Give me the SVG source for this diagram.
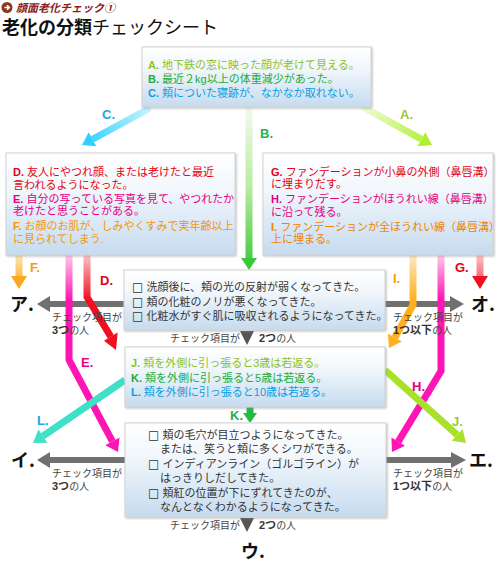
<svg xmlns="http://www.w3.org/2000/svg" width="500" height="564" viewBox="0 0 500 564">
<defs>
<style>
text{font-family:"Liberation Sans","Noto Sans CJK JP",sans-serif;}
.bx{font-size:11px;}
.g{fill:#333;}
.sq{font-family:"DejaVu Sans","Noto Sans CJK JP",sans-serif;font-size:12px;}
.lbl{font-size:10px;fill:#444;}
.b{font-weight:bold;}
.nb{font-weight:bold;font-size:11px;fill:#333;}
.al{font-size:13px;font-weight:bold;}
.big{font-family:"Noto Sans CJK JP",sans-serif;font-size:18px;font-weight:bold;fill:#111;}
.box{stroke:#d4d4d4;stroke-width:1;fill:url(#boxg);filter:url(#sh);}
.sh{fill:none;stroke-width:7;stroke-linejoin:miter;}
.gr{fill:#707070;}
</style>
<linearGradient id="boxg" x1="0" y1="0" x2="0" y2="1">
<stop offset="0" stop-color="#ffffff"/>
<stop offset="0.35" stop-color="#f2f7fc"/>
<stop offset="1" stop-color="#c6dbef"/>
</linearGradient>
<filter id="sh" x="-5%" y="-5%" width="110%" height="115%">
<feDropShadow dx="1" dy="1" stdDeviation="1.2" flood-color="#888" flood-opacity="0.55"/>
</filter>
<linearGradient id="gC" gradientUnits="userSpaceOnUse" x1="150" y1="108" x2="85" y2="143"><stop offset="0" stop-color="#c8f4ff"/><stop offset="1" stop-color="#2fd0ff"/></linearGradient>
<linearGradient id="gA" gradientUnits="userSpaceOnUse" x1="363" y1="107" x2="430" y2="143"><stop offset="0" stop-color="#eefcd8"/><stop offset="1" stop-color="#b0f030"/></linearGradient>
<linearGradient id="gB" gradientUnits="userSpaceOnUse" x1="0" y1="107" x2="0" y2="268"><stop offset="0" stop-color="#f2faee"/><stop offset="0.5" stop-color="#b8eca0"/><stop offset="1" stop-color="#3cc83c"/></linearGradient>
<linearGradient id="gF" gradientUnits="userSpaceOnUse" x1="0" y1="255" x2="0" y2="288"><stop offset="0" stop-color="#fde6b0"/><stop offset="1" stop-color="#f9a820"/></linearGradient>
<linearGradient id="gE" gradientUnits="userSpaceOnUse" x1="0" y1="255" x2="0" y2="300"><stop offset="0" stop-color="#ffc8ea"/><stop offset="1" stop-color="#ff14b4"/></linearGradient>
<linearGradient id="gD" gradientUnits="userSpaceOnUse" x1="0" y1="255" x2="0" y2="300"><stop offset="0" stop-color="#ffc0c8"/><stop offset="1" stop-color="#f01020"/></linearGradient>
<linearGradient id="gI" gradientUnits="userSpaceOnUse" x1="0" y1="255" x2="0" y2="300"><stop offset="0" stop-color="#fde8c0"/><stop offset="1" stop-color="#ffb020"/></linearGradient>
</defs>
<rect width="500" height="564" fill="#ffffff"/>

<g id="header">
<circle cx="7" cy="7.5" r="5.5" fill="#8a3a1a"/>
<path d="M4.5 7.5 H9 M7 5.2 L9.3 7.5 L7 9.8" stroke="#fff" stroke-width="1.6" fill="none"/>
<text x="16" y="12" font-size="11" font-weight="bold" font-style="italic" fill="#8b1c1c">顔面老化チェック①</text>
<text x="2" y="34" font-size="18" fill="#111"><tspan font-weight="bold">老化の分類</tspan>チェックシート</text>
</g>

<g id="connectors">
<rect class="gr" x="49" y="301" width="76" height="6"/>
<polygon class="gr" points="50,296 50,312 37,304"/>
<rect class="gr" x="385" y="301" width="66" height="6"/>
<polygon class="gr" points="450,296 450,312 464,304"/>
<rect class="gr" x="49" y="457" width="76" height="6"/>
<polygon class="gr" points="50,452 50,468 37,460"/>
<rect class="gr" x="386" y="457" width="66" height="6"/>
<polygon class="gr" points="451,452 451,468 466,460"/>

<path class="sh" stroke="url(#gC)" d="M150 108 L92.5 139.3"/>
<polygon fill="#2fd0ff" points="96.3,146.3 88.7,132.3 82,145"/>
<path class="sh" stroke="url(#gA)" d="M363 107 L421.5 139.2"/>
<polygon fill="#b0f030" points="417.6,146.2 425.4,132.2 432,145"/>
<path class="sh" stroke="url(#gB)" d="M249 107 V259"/>
<polygon fill="#3cc83c" points="241,258 257,258 249,270"/>
<path class="sh" stroke="url(#gF)" d="M19 255 V277"/>
<polygon fill="#f9a820" points="11,276 27,276 19,289"/>
<path class="sh" stroke="url(#gE)" d="M69 255 V360 L112.4 441.4"/>
<polygon fill="#ff14b4" points="105.3,445.2 119.5,437.6 118,452"/>
<path class="sh" stroke="url(#gD)" d="M87 255 V297 L110.8 336.7"/>
<polygon fill="#f01020" points="104,340.8 117.7,332.6 116,350"/>
<path class="sh" stroke="url(#gD)" d="M480 255 V277"/>
<polygon fill="#f01020" points="472,276 488,276 480,289"/>
<path class="sh" stroke="url(#gE)" d="M441 255 V371 L398.2 441.7"/>
<polygon fill="#ff14b4" points="405,445.8 391.4,437.6 392,452"/>
<path class="sh" stroke="url(#gI)" d="M413 255 V305 L394.9 337.5"/>
<polygon fill="#ffb020" points="401.9,341.4 387.9,333.6 389,348"/>
<path class="sh" stroke="#a8e02a" d="M385 370 L457.2 434.8"/>
<polygon fill="#a8e02a" points="451.8,440.7 462.6,428.9 466,443"/>
<path class="sh" stroke="#3ee0c8" d="M125 380 L42.9 436.2"/>
<polygon fill="#3ee0c8" points="47.4,442.8 38.4,429.6 33,443"/>
<path class="sh" stroke="#22bb44" d="M250 407 V414"/>
<polygon fill="#22bb44" points="243,413 257,413 250,423"/>

<text class="al" x="102" y="119" fill="#11aaee">C.</text>
<text class="al" x="400" y="119" fill="#99cc33">A.</text>
<text class="al" x="260" y="138" fill="#22b544">B.</text>
<text class="al" x="30" y="272" fill="#f5a000">F.</text>
<text class="al" x="100" y="285" fill="#e60012">D.</text>
<text class="al" x="81" y="367" fill="#e4007f">E.</text>
<text class="al" x="393" y="283" fill="#f5a000">I.</text>
<text class="al" x="455" y="272" fill="#e60012">G.</text>
<text class="al" x="412" y="391" fill="#e4007f">H.</text>
<text class="al" x="37" y="425" fill="#11aaee">L.</text>
<text class="al" x="452" y="426" fill="#99cc33">J.</text>
<text class="al" x="230" y="420" fill="#22b544">K.</text>

<text class="lbl" x="52" y="321">チェック項目が<tspan x="52" dy="13"><tspan class="nb">3つ</tspan>の人</tspan></text>
<text class="lbl" x="393" y="321">チェック項目が<tspan x="393" dy="13"><tspan class="nb">1つ以下</tspan>の人</tspan></text>
<text class="lbl" x="52" y="477">チェック項目が<tspan x="52" dy="13"><tspan class="nb">3つ</tspan>の人</tspan></text>
<text class="lbl" x="393" y="477">チェック項目が<tspan x="393" dy="13"><tspan class="nb">1つ以下</tspan>の人</tspan></text>
<text class="lbl" x="170" y="342">チェック項目が</text>
<polygon fill="#555" points="240,331 254,331 247,345"/>
<text class="lbl" x="259" y="342"><tspan class="nb">2つ</tspan>の人</text>
<text class="lbl" x="170" y="529">チェック項目が</text>
<polygon fill="#555" points="240,518 254,518 247,532"/>
<text class="lbl" x="259" y="529"><tspan class="nb">2つ</tspan>の人</text>
</g>

<g id="node-top">
<rect class="box" x="142" y="47" width="229" height="60"/>
<text class="bx" x="148" y="69"><tspan fill="#8dc21f"><tspan class="b">A.</tspan> 地下鉄の窓に映った顔が老けて見える。</tspan><tspan x="148" dy="13.5" fill="#22ac38"><tspan class="b">B.</tspan> 最近２kg以上の体重減少があった。</tspan><tspan x="148" dy="14.5" fill="#0a9ee0"><tspan class="b">C.</tspan> 頬についた寝跡が、なかなか取れない。</tspan></text>
</g>

<g id="node-left">
<rect class="box" x="6" y="153" width="229" height="102"/>
<text class="bx" x="13" y="176"><tspan fill="#e60012"><tspan class="b">D.</tspan> 友人にやつれ顔、または老けたと最近</tspan><tspan x="13" dy="12.5" fill="#e60012">言われるようになった。</tspan><tspan x="13" dy="14" fill="#e4007f"><tspan class="b">E.</tspan> 自分の写っている写真を見て、やつれたか</tspan><tspan x="13" dy="12.5" fill="#e4007f">老けたと思うことがある。</tspan><tspan x="13" dy="15" fill="#f39800"><tspan class="b">F.</tspan> お顔のお肌が、しみやくすみで実年齢以上</tspan><tspan x="13" dy="12.5" fill="#f39800">に見られてしまう.</tspan></text>
</g>

<g id="node-right">
<rect class="box" x="263" y="153" width="230" height="102"/>
<text class="bx" x="271" y="175.5"><tspan fill="#e60012"><tspan class="b">G.</tspan> ファンデーションが小鼻の外側（鼻唇溝）</tspan><tspan x="271" dy="12.5" fill="#e60012">に埋まりだす。</tspan><tspan x="271" dy="15" fill="#e4007f"><tspan class="b">H.</tspan> ファンデーションがほうれい線（鼻唇溝）</tspan><tspan x="271" dy="12.5" fill="#e4007f">に沿って残る。</tspan><tspan x="271" dy="15" fill="#f08300"><tspan class="b">I.</tspan> ファンデーションが全ほうれい線（鼻唇溝）</tspan><tspan x="271" dy="12.5" fill="#f08300">上に埋まる。</tspan></text>
</g>

<g id="node-check1">
<rect class="box" x="124" y="270" width="261" height="60"/>
<text class="bx g" x="132" y="291"><tspan class="sq">□</tspan> 洗顔後に、頬の光の反射が弱くなってきた。<tspan x="132" dy="14.5"><tspan class="sq">□</tspan> 頬の化粧のノリが悪くなってきた。</tspan><tspan x="132" dy="14.5"><tspan class="sq">□</tspan> 化粧水がすぐ肌に吸収されるようになってきた。</tspan></text>
</g>

<g id="node-check2">
<rect class="box" x="125" y="347" width="260" height="60"/>
<text class="bx" x="131" y="367"><tspan fill="#8dc21f"><tspan class="b">J.</tspan> 頬を外側に引っ張ると3歳は若返る。</tspan><tspan x="131" dy="14.5" fill="#22ac38"><tspan class="b">K.</tspan> 頬を外側に引っ張ると5歳は若返る。</tspan><tspan x="131" dy="14.5" fill="#0a9ee0"><tspan class="b">L.</tspan> 頬を外側に引っ張ると10歳は若返る。</tspan></text>
</g>

<g id="node-check3">
<rect class="box" x="125" y="423" width="261" height="94"/>
<text class="bx g" x="148" y="439"><tspan class="sq">□</tspan> 頬の毛穴が目立つようになってきた。<tspan x="160" dy="14">または、笑うと頬に多くシワができる。</tspan><tspan x="148" dy="15"><tspan class="sq">□</tspan> インディアンライン（ゴルゴライン）が</tspan><tspan x="160" dy="14">はっきりしだしてきた。</tspan><tspan x="148" dy="15"><tspan class="sq">□</tspan> 頬紅の位置が下にずれてきたのが、</tspan><tspan x="160" dy="14">なんとなくわかるようになってきた。</tspan></text>
</g>

<g id="result-a"><text class="big" x="10" y="311">ア.</text></g>
<g id="result-o"><text class="big" x="471" y="311">オ.</text></g>
<g id="result-i"><text class="big" x="11" y="467">イ.</text></g>
<g id="result-e"><text class="big" x="469" y="467">エ.</text></g>
<g id="result-u"><text class="big" x="241" y="558">ウ.</text></g>
</svg>
